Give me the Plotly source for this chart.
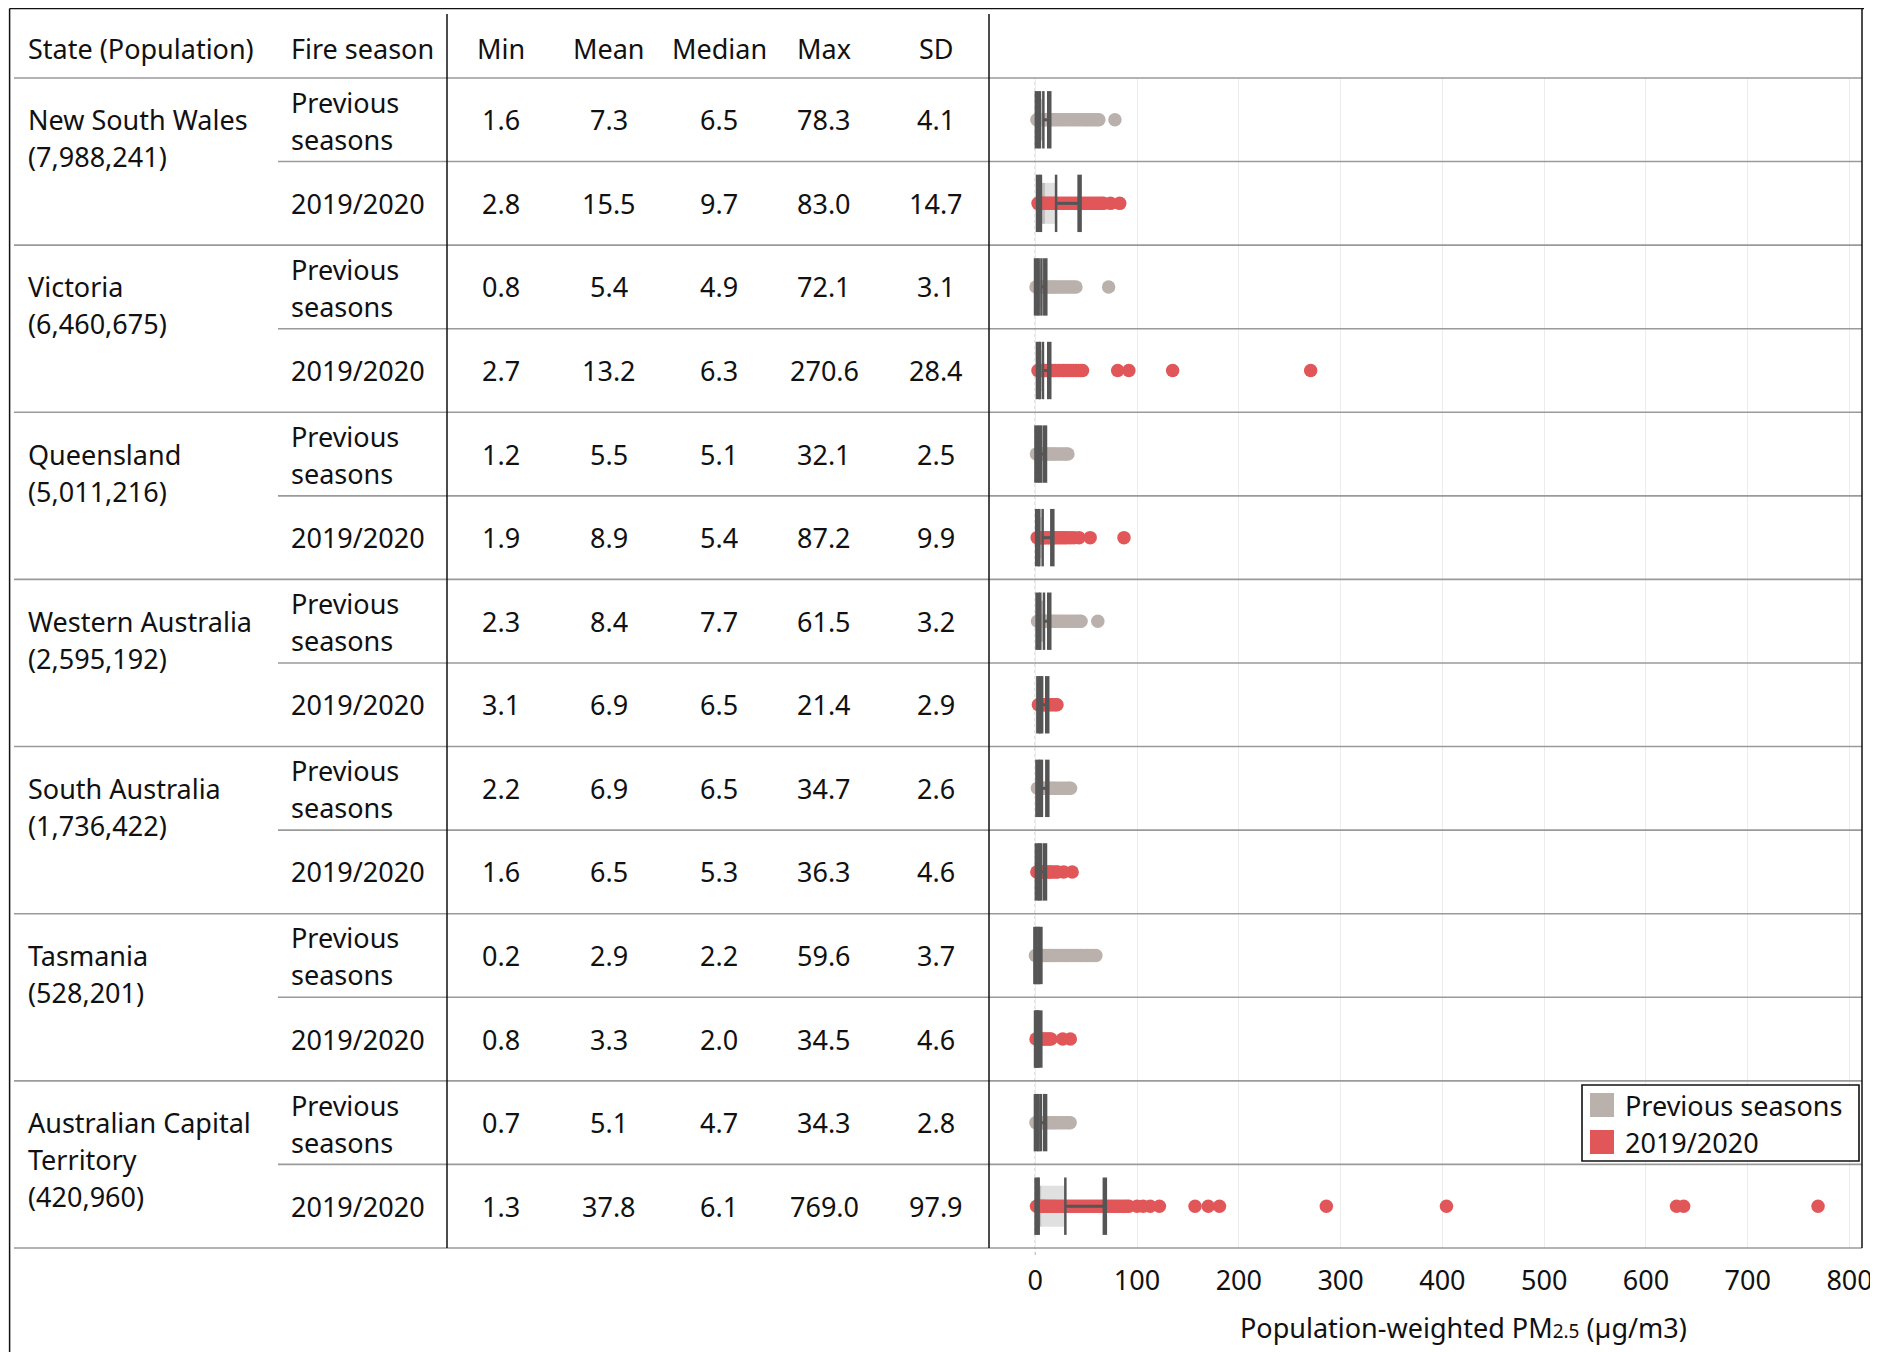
import plotly.graph_objects as go

# ---------------- data ----------------
state_names = ["New South Wales", "Victoria", "Queensland", "Western Australia",
               "South Australia", "Tasmania", "Australian Capital Territory"]
state_label_lines = [["New South Wales"], ["Victoria"], ["Queensland"], ["Western Australia"],
                     ["South Australia"], ["Tasmania"], ["Australian Capital", "Territory"]]
state_populations = ["7,988,241", "6,460,675", "5,011,216", "2,595,192",
                     "1,736,422", "528,201", "420,960"]
season_names = ["Previous seasons", "2019/2020"]
season_label_lines = [["Previous", "seasons"], ["2019/2020"]]
season_colors = ["#bab0ac", "#e15759"]
column_names = ["Min", "Mean", "Median", "Max", "SD"]

# one entry per table row: state order, Previous seasons then 2019/2020
min_vals = [1.6, 2.8, 0.8, 2.7, 1.2, 1.9, 2.3, 3.1, 2.2, 1.6, 0.2, 0.8, 0.7, 1.3]
mean_vals = [7.3, 15.5, 5.4, 13.2, 5.5, 8.9, 8.4, 6.9, 6.9, 6.5, 2.9, 3.3, 5.1, 37.8]
median_vals = [6.5, 9.7, 4.9, 6.3, 5.1, 5.4, 7.7, 6.5, 6.5, 5.3, 2.2, 2.0, 4.7, 6.1]
max_vals = [78.3, 83.0, 72.1, 270.6, 32.1, 87.2, 61.5, 21.4, 34.7, 36.3, 59.6, 34.5, 34.3, 769.0]
sd_vals = [4.1, 14.7, 3.1, 28.4, 2.5, 9.9, 3.2, 2.9, 2.6, 4.6, 3.7, 4.6, 2.8, 97.9]

# box plot quartiles / upper whisker (lower whisker = min)
q1_vals = [4.6, 5.6, 3.4, 4.6, 3.8, 4.0, 5.0, 4.9, 4.6, 4.0, 1.2, 1.1, 3.3, 3.4]
q3_vals = [8.0, 20.5, 6.1, 7.6, 5.9, 7.3, 8.6, 6.8, 6.6, 5.8, 3.4, 2.9, 5.5, 29.6]
upper_whisker_vals = [13.8, 43.6, 9.9, 13.8, 9.6, 16.8, 13.8, 11.8, 11.9, 9.6, 5.1, 5.0, 9.7, 68.4]

tick_values = [0, 100, 200, 300, 400, 500, 600, 700, 800]

nsw_prev_pts = [1.6, 3, 4.5, 6, 7.5, 9, 11, 13, 15, 17, 19, 21.5, 24, 26.5, 29, 31.5, 34, 36.5, 39,
                41.5, 44, 46.5, 49, 51, 53.5, 56, 58, 60.5, 62.5, 78.3]
nsw_2019_pts = [2.8, 4, 5.5, 7, 8.5, 10, 12, 14, 16, 18, 20, 22.5, 25, 27.5, 30, 32.5, 35, 37.5, 40,
                42.5, 45, 47.5, 50, 52.5, 55, 57.5, 60, 62.5, 65, 67, 74, 83.0]
vic_prev_pts = [0.8, 2, 3.5, 5, 6.5, 8, 10, 12, 14, 16, 18, 20, 22.5, 25, 27.5, 30, 32.5, 35, 37.5,
                40, 72.1]
vic_2019_pts = [2.7, 4, 5.5, 7, 8.5, 10, 12, 14, 16, 18, 20, 22.5, 25, 27.5, 30, 32.5, 35, 37.5, 40,
                42.5, 45, 46.5, 81, 92, 135, 270.6]
qld_prev_pts = [1.2, 2.5, 4, 5.5, 7, 8.5, 10, 12, 14, 16, 18, 20, 22.5, 25, 27.5, 30, 32.1]
qld_2019_pts = [1.9, 3, 4.5, 6, 7.5, 9, 11, 13, 15, 17, 19, 21, 23.5, 26, 28.5, 31, 34.5, 38, 43,
                54, 87.2]
wa_prev_pts = [2.3, 3.5, 5, 6.5, 8, 9.5, 11, 13, 15, 17, 19, 21, 23.5, 26, 28.5, 31, 33.5, 36, 38.5,
               41, 43.5, 45, 61.5]
wa_2019_pts = [3.1, 4.5, 6, 7.5, 9, 10.5, 12, 14, 16, 18, 20, 21.4]
sa_prev_pts = [2.2, 3.5, 5, 6.5, 8, 9.5, 11, 13, 15, 17, 19, 21, 23.5, 26, 28.5, 31, 33, 34.7]
sa_2019_pts = [1.6, 3, 4.5, 6, 7.5, 9, 11, 13, 15, 17, 20, 22, 28, 36.3]
tas_prev_pts = [0.2, 1.5, 3, 4.5, 6, 7.5, 9, 11, 13, 15, 17, 19, 21.5, 24, 26.5, 29, 31.5, 34, 36.5,
                39, 41.5, 44, 46, 49, 51.5, 54, 57, 59.6]
tas_2019_pts = [0.8, 2, 3.5, 5, 6.5, 8, 10, 12, 14, 15.5, 27, 34.5]
act_prev_pts = [0.7, 2, 3.5, 5, 6.5, 8, 10, 12, 14, 16, 18, 20, 22.5, 25, 27.5, 30, 32.5, 34.3]
act_2019_pts = [1.3, 2.5, 4, 5.5, 7, 8.5, 10, 12, 14, 16, 18, 20, 22.5, 25, 27.5, 30, 32.5, 35, 37.5,
                40, 42.5, 45, 47.5, 50, 52.5, 55, 57.5, 60, 62.5, 65, 67.5, 70, 72.5, 75, 77.5, 80,
                82.5, 85, 87.5, 90, 92, 100, 106, 113, 122, 157, 170, 181, 286, 404, 630, 637, 769.0]

row_points = [nsw_prev_pts, nsw_2019_pts, vic_prev_pts, vic_2019_pts, qld_prev_pts, qld_2019_pts,
              wa_prev_pts, wa_2019_pts, sa_prev_pts, sa_2019_pts, tas_prev_pts, tas_2019_pts,
              act_prev_pts, act_2019_pts]

axis_title = "Population-weighted PM<span style='font-size:19px'>2.5</span> (µg/m3)"

# ---------------- layout geometry (page pixels) ----------------
W, H = 1878, 1352
PAGE_OFFSET = 8  # default body margin of the html page
FIG_W, FIG_H = W - PAGE_OFFSET, H - PAGE_OFFSET
FONT = "Noto Sans"
FS = 27
TEXT_COLOR = "#111111"
TOP = 8.5
HEAD_BOTTOM = 78.0
ROW_H = 83.57
N_ROWS = len(min_vals)
TABLE_BOTTOM = HEAD_BOTTOM + ROW_H * N_ROWS
LEFT = 9.6
COL_SPLIT_1 = 447
PLOT_LEFT = 989
PLOT_RIGHT = 1862
STATE_X = 26
SEASON_X = 289
VALUE_X = [501, 609, 719, 824, 936]
BOX_PX = 41
X_RANGE = [-45.4, 812.2]


def px(x):
    return (x - PAGE_OFFSET) / FIG_W


def py(y):
    return 1 - (y - PAGE_OFFSET) / FIG_H


def row_center(i):
    return HEAD_BOTTOM + ROW_H * (i + 0.5)


fig = go.Figure()

rows = list(range(N_ROWS))

# dots
for s, name in enumerate(season_names):
    xs, ys = [], []
    for r in rows:
        if r % 2 == s:
            xs += row_points[r]
            ys += [r] * len(row_points[r])
    fig.add_trace(go.Scatter(x=xs, y=ys, mode="markers", name=name, showlegend=False,
                             marker=dict(size=13.5, color=season_colors[s], line=dict(width=0))))

box_w = BOX_PX / ROW_H
# two-tone box
fig.add_trace(go.Bar(orientation="h", y=rows, base=q1_vals,
                     x=[m - q for m, q in zip(median_vals, q1_vals)], width=box_w,
                     marker=dict(color="rgba(140,140,140,0.55)", line=dict(width=0)),
                     showlegend=False))
fig.add_trace(go.Bar(orientation="h", y=rows, base=median_vals,
                     x=[q - m for q, m in zip(q3_vals, median_vals)], width=box_w,
                     marker=dict(color="rgba(205,205,205,0.62)", line=dict(width=0)),
                     showlegend=False))

# whiskers
wx, wy = [], []
for r in rows:
    wx += [min_vals[r], q1_vals[r], None, q3_vals[r], upper_whisker_vals[r], None]
    wy += [r, r, None, r, r, None]
fig.add_trace(go.Scatter(x=wx, y=wy, mode="lines", line=dict(color="#555555", width=3),
                         showlegend=False, hoverinfo="skip"))

# box edges
fig.add_trace(go.Scatter(x=q1_vals + q3_vals, y=rows + rows, mode="markers", showlegend=False,
                         marker=dict(symbol="line-ns", size=BOX_PX,
                                     line=dict(color="#555555", width=2.5))))
# whisker caps
fig.add_trace(go.Scatter(x=min_vals + upper_whisker_vals, y=rows + rows, mode="markers",
                         showlegend=False,
                         marker=dict(symbol="line-ns", size=BOX_PX,
                                     line=dict(color="#555555", width=4.5))))

annotations = []


def txt(text, x, y, anchor="left", size=FS):
    annotations.append(dict(text=text, x=px(x), y=py(y), xref="paper", yref="paper",
                            xanchor=anchor, yanchor="middle", showarrow=False,
                            font=dict(family=FONT, size=size, color=TEXT_COLOR)))


HEAD_Y = 48
txt("State (Population)", STATE_X, HEAD_Y)
txt("Fire season", SEASON_X, HEAD_Y)
for c, name in enumerate(column_names):
    txt(name, VALUE_X[c], HEAD_Y, "center")

LINE_GAP = 37
for k in range(len(state_names)):
    lines = state_label_lines[k] + ["(" + state_populations[k] + ")"]
    y0 = row_center(2 * k)
    for j, line in enumerate(lines):
        txt(line, STATE_X, y0 + j * LINE_GAP)

for r in rows:
    s = r % 2
    lines = season_label_lines[s]
    yc = row_center(r)
    if len(lines) == 2:
        txt(lines[0], SEASON_X, yc - 17.5)
        txt(lines[1], SEASON_X, yc + 19.5)
    else:
        txt(lines[0], SEASON_X, yc)
    for c, vals in enumerate([min_vals, mean_vals, median_vals, max_vals, sd_vals]):
        txt(f"{vals[r]:.1f}", VALUE_X[c], yc, "center")

# axis title
txt(axis_title, 1463, 1327, "center")

# legend (manual)
LEG = dict(x0=1582, y0=1085, x1=1859, y1=1161)
for s, name in enumerate(season_names):
    txt(name, 1623, 1105 + s * 37)

shapes = []


def hline(y, x0, x1, color="#9a9a9a", width=1.6):
    shapes.append(dict(type="line", xref="paper", yref="paper", x0=px(x0), x1=px(x1),
                       y0=py(y), y1=py(y), line=dict(color=color, width=width), layer="above"))


def vline(x, y0, y1, color="#111111", width=1.5):
    shapes.append(dict(type="line", xref="paper", yref="paper", x0=px(x), x1=px(x),
                       y0=py(y0), y1=py(y1), line=dict(color=color, width=width), layer="above"))


# row separators
hline(HEAD_BOTTOM, 14, PLOT_RIGHT)
for i in range(1, N_ROWS + 1):
    y = HEAD_BOTTOM + ROW_H * i
    if i % 2 == 0:
        hline(y, 14, PLOT_RIGHT)
    else:
        hline(y, 278, PLOT_RIGHT)

# frame
hline(TOP, LEFT, 1864, color="#111111", width=1.6)
vline(LEFT, TOP, H)
vline(PLOT_RIGHT, TOP, TABLE_BOTTOM)
vline(COL_SPLIT_1, 14, TABLE_BOTTOM)
vline(PLOT_LEFT, 14, TABLE_BOTTOM)

# zero reference line
shapes.append(dict(type="line", xref="x", yref="paper", x0=0, x1=0, y0=py(TABLE_BOTTOM + 7),
                   y1=py(HEAD_BOTTOM), line=dict(color="#c2c2c2", width=1.3, dash="dot"),
                   layer="below"))

# legend box + swatches
shapes.append(dict(type="rect", xref="paper", yref="paper", x0=px(LEG["x0"]), x1=px(LEG["x1"]),
                   y0=py(LEG["y1"]), y1=py(LEG["y0"]), fillcolor="white",
                   line=dict(color="#111111", width=1.6), layer="above"))
for s in range(len(season_names)):
    top = 1093 + s * 37
    shapes.append(dict(type="rect", xref="paper", yref="paper", x0=px(1590), x1=px(1614),
                       y0=py(top + 24), y1=py(top), fillcolor=season_colors[s],
                       line=dict(width=0), layer="above"))

fig.update_layout(
    width=FIG_W, height=FIG_H,
    margin=dict(l=0, r=0, t=0, b=0, autoexpand=False),
    paper_bgcolor="white", plot_bgcolor="rgba(0,0,0,0)",
    barmode="overlay", showlegend=False,
    font=dict(family=FONT, size=FS, color=TEXT_COLOR),
    annotations=annotations, shapes=shapes,
    xaxis=dict(domain=[px(PLOT_LEFT), px(PLOT_RIGHT)], range=X_RANGE, automargin=False,
               tickvals=tick_values, ticktext=[str(t) for t in tick_values],
               showgrid=True, gridcolor="#ececec", gridwidth=1, zeroline=False,
               showline=False, ticks="", ticklabelstandoff=14,
               tickfont=dict(family=FONT, size=FS, color=TEXT_COLOR)),
    yaxis=dict(domain=[py(TABLE_BOTTOM), py(HEAD_BOTTOM)], range=[N_ROWS - 0.5, -0.5],
               automargin=False,
               showgrid=False, zeroline=False, showticklabels=False, showline=False, ticks=""),
)

fig.write_html("out.html")
